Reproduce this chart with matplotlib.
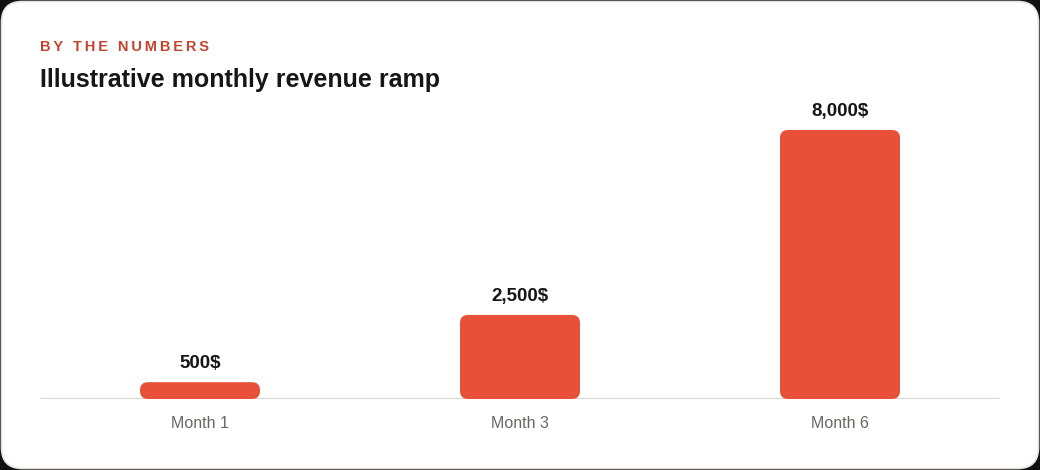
import matplotlib.pyplot as plt
from matplotlib.patches import FancyBboxPatch

months = ["Month 1", "Month 3", "Month 6"]
revenue = [500, 2500, 8000]
value_labels = ["500$", "2,500$", "8,000$"]

BAR = "#e8503a"
plt.rcParams['font.family'] = ['Liberation Sans', 'DejaVu Sans']

fig = plt.figure(figsize=(10.4, 4.7), dpi=100, facecolor="#111111")

# white card with rounded corners
card = FancyBboxPatch((1.5 / 1040, 1.5 / 470), 1037 / 1040, 467 / 470,
                      boxstyle="round,pad=0,rounding_size=0.02",
                      mutation_aspect=1040 / 470,
                      transform=fig.transFigure, facecolor="white",
                      edgecolor="#e4e1dd", linewidth=1.2, zorder=-5)
fig.patches.append(card)

fig.text(40 / 1040, 1 - 51 / 470, "\u2009".join("BY THE NUMBERS"),
         fontsize=10.5, fontweight="bold", color="#c4432e")
fig.text(40 / 1040, 1 - 87 / 470, "Illustrative monthly revenue ramp",
         fontsize=18, fontweight="bold", color="#161616")

ax = fig.add_axes([40 / 1040, 71 / 470, 960 / 1040, 299 / 470])
ax.set_facecolor("none")
ymax = 299 / 269 * 8000
ax.set_xlim(-0.5, 2.5)
ax.set_ylim(0, ymax)

width = 0.375
r_x = 8 / 320
r_y = 8 * ymax / 299
for i, v in enumerate(revenue):
    bar = FancyBboxPatch((i - width / 2, 0), width, v,
                         boxstyle="round,pad=0,rounding_size=%f" % r_x,
                         mutation_aspect=r_y / r_x,
                         facecolor=BAR, edgecolor="none", zorder=2)
    ax.add_patch(bar)
    ax.text(i, v + 10 * ymax / 299, value_labels[i], ha="center", va="bottom",
            fontsize=13.5, fontweight="bold", color="#161616")

ax.axhline(0, color="#d9d5d1", linewidth=1.5, zorder=1)
for s in ax.spines.values():
    s.set_visible(False)
ax.set_yticks([])
ax.set_xticks(range(len(months)))
ax.set_xticklabels(months, fontsize=11.5, color="#6b6661")
ax.tick_params(axis="x", length=0, pad=12.5)

fig.savefig("out.png", dpi=100, facecolor=fig.get_facecolor())
